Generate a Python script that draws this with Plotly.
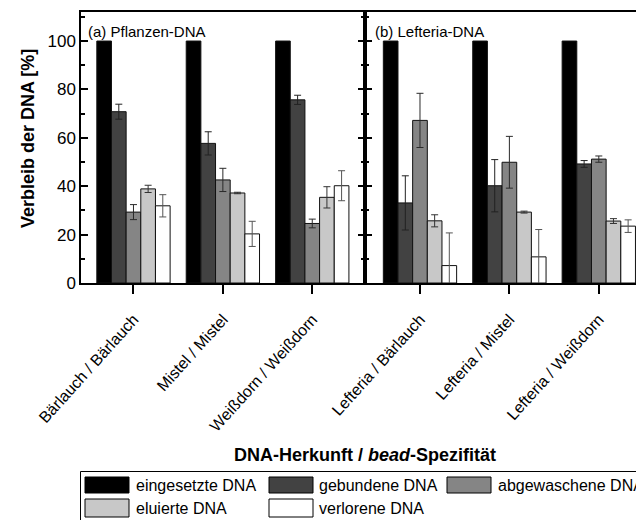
import plotly.graph_objects as go

# ---------------- data ----------------
categories_a = ["Bärlauch / Bärlauch", "Mistel / Mistel", "Weißdorn / Weißdorn"]
categories_b = ["Lefteria / Bärlauch", "Lefteria / Mistel", "Lefteria / Weißdorn"]
series_names = ["eingesetzte DNA", "gebundene DNA", "abgewaschene DNA", "eluierte DNA", "verlorene DNA"]
series_colors = ["#000000", "#424242", "#858585", "#c8c8c8", "#ffffff"]

# values: first three = panel (a), last three = panel (b)
eingesetzt = [100, 100, 100, 100, 100, 100]
gebunden = [70.8, 57.7, 75.7, 33.1, 40.2, 49.2]
gebunden_err = [3.1, 4.8, 1.9, 11.2, 10.8, 1.4]
abgewaschen = [29.3, 42.6, 24.6, 67.2, 49.9, 51.2]
abgewaschen_err = [3.1, 4.8, 1.8, 11.2, 10.7, 1.3]
eluiert = [38.9, 37.2, 35.4, 25.7, 29.3, 25.6]
eluiert_err = [1.5, 0.3, 4.4, 2.5, 0.4, 1.0]
verloren = [31.9, 20.3, 40.2, 7.2, 10.8, 23.5]
verloren_err = [4.6, 5.2, 6.2, 13.5, 11.3, 2.6]

panel_labels = ["(a) Pflanzen-DNA", "(b) Lefteria-DNA"]
y_ticks = [0, 20, 40, 60, 80, 100]

values = [eingesetzt, gebunden, abgewaschen, eluiert, verloren]
errors = [None, gebunden_err, abgewaschen_err, eluiert_err, verloren_err]
err_colors = [None, "#222222", "#2a2a2a", "#333333", "#555555"]

# ---------------- layout geometry (pixels) ----------------
W, H = 644, 520
OFF = 8  # page body offset of the figure on screen
PL, PT, PB = 73, 4, 245
PW = W - PL
PH = H - PT - PB


def px(x):
    """screen x -> paper x"""
    return (x - OFF - PL) / PW


def py(y):
    """screen y -> paper y"""
    return (PT + PH - (y - OFF)) / PH


split = px(365)
FONT = "Liberation Sans, Arial, sans-serif"

fig = go.Figure()

for k, (name, col, vals, err, ec) in enumerate(zip(series_names, series_colors, values, errors, err_colors)):
    for panel, (cats, xa, ya) in enumerate([(categories_a, "x", "y"), (categories_b, "x2", "y2")]):
        v = vals[panel * 3:(panel + 1) * 3]
        kw = {}
        if err is not None:
            kw["error_y"] = dict(type="data", array=err[panel * 3:(panel + 1) * 3],
                                 color=ec, thickness=1, width=3.5)
        fig.add_trace(go.Bar(
            x=cats, y=v, name=name, xaxis=xa, yaxis=ya,
            offsetgroup=str(k), showlegend=False,
            marker=dict(color=col, line=dict(color="#111111", width=1)),
            **kw))

axis_common = dict(showline=True, linecolor="black", linewidth=1.5, showgrid=False,
                   zeroline=False)
xtick_common = dict(ticks="outside", ticklen=9, tickwidth=1.5, tickcolor="black",
                    tickangle=-48, ticklabelstandoff=10,
                    tickfont=dict(size=16, family=FONT, color="black"))

fig.update_layout(
    width=W, height=H,
    margin=dict(l=PL, r=0, t=PT, b=PB),
    paper_bgcolor="white", plot_bgcolor="white",
    barmode="group", bargap=0.18, bargroupgap=0,
    font=dict(family=FONT, color="black"),
    showlegend=False,
    xaxis=dict(domain=[0, split], range=[-0.587, 2.59], mirror=True,
               **xtick_common, **axis_common),
    xaxis2=dict(domain=[split, 1], range=[-0.615, 2.595], mirror=True,
                anchor="y2", **xtick_common, **axis_common),
    yaxis=dict(range=[0, 112], tickvals=y_ticks, ticks="inside", ticklen=7, tickwidth=1.5,
               tickcolor="black", mirror="ticks",
               minor=dict(dtick=10, ticks="inside", ticklen=4, tickwidth=1.5, tickcolor="black"),
               tickfont=dict(size=17, family=FONT, color="black"),
               anchor="x", **axis_common),
    yaxis2=dict(range=[0, 112], tickvals=y_ticks, ticks="inside", ticklen=7, tickwidth=1.5,
                tickcolor="black", showticklabels=False, mirror=False,
                minor=dict(dtick=10, ticks="inside", ticklen=4, tickwidth=1.5, tickcolor="black"),
                anchor="x2", matches="y", **axis_common),
)

annotations = []
# panel labels
annotations.append(dict(text=panel_labels[0], xref="paper", yref="paper", x=px(86), y=py(31),
                        xanchor="left", yanchor="middle", showarrow=False,
                        font=dict(size=15, family=FONT, color="black")))
annotations.append(dict(text=panel_labels[1], xref="paper", yref="paper", x=px(373), y=py(31),
                        xanchor="left", yanchor="middle", showarrow=False,
                        font=dict(size=15, family=FONT, color="black")))
# axis titles
annotations.append(dict(text="<b>Verbleib der DNA [%]</b>", xref="paper", yref="paper",
                        x=px(28), y=py(139), xanchor="center", yanchor="middle", textangle=-90,
                        showarrow=False, font=dict(size=18, family=FONT, color="black")))
annotations.append(dict(text="<b>DNA-Herkunft / <i>bead</i>-Spezifität</b>", xref="paper", yref="paper",
                        x=px(365), y=py(455), xanchor="center", yanchor="middle",
                        showarrow=False, font=dict(size=18, family=FONT, color="black")))

shapes = []
# legend frame
shapes.append(dict(type="rect", xref="paper", yref="paper", x0=px(80.5), x1=px(720),
                   y0=py(528), y1=py(471.5), line=dict(color="black", width=1), fillcolor="white",
                   layer="below"))
leg_cols = [(85, 134), (269, 317), (447, 496)]
leg_rows = [(477, 493), (499, 517)]
for i, (name, col) in enumerate(zip(series_names, series_colors)):
    r, c = divmod(i, 3)
    sx, tx = leg_cols[c]
    y0, y1 = leg_rows[r]
    shapes.append(dict(type="rect", xref="paper", yref="paper", x0=px(sx), x1=px(sx + 44),
                       y0=py(y1), y1=py(y0), fillcolor=col, line=dict(color="black", width=1)))
    annotations.append(dict(text=name, xref="paper", yref="paper", x=px(tx), y=py((y0 + y1) / 2),
                            xanchor="left", yanchor="middle", showarrow=False,
                            font=dict(size=16, family=FONT, color="black")))

fig.update_layout(annotations=annotations, shapes=shapes)

fig.write_html("out.html")
